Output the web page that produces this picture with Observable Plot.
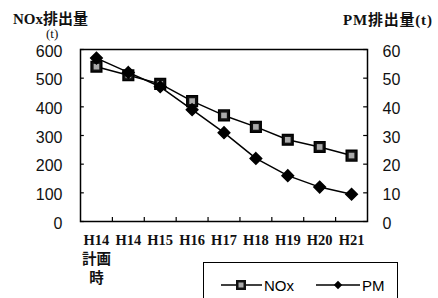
<!DOCTYPE html>
<html><head><meta charset="utf-8">
<script src="https://cdn.jsdelivr.net/npm/d3@7"></script>
<script src="https://cdn.jsdelivr.net/npm/@observablehq/plot@0.6"></script>
<style>
body{margin:0;background:#fff;}
#wrap{position:relative;width:438px;height:298px;overflow:hidden;background:#fff;}
.t{position:absolute;font-family:"Liberation Serif","Noto Sans CJK JP",serif;font-weight:bold;font-size:15px;color:#111;white-space:nowrap;}
#legend{position:absolute;left:203px;top:262px;width:195px;height:44px;border:1px solid #000;box-sizing:border-box;font-family:"Liberation Sans",Arial,sans-serif;font-size:15px;}
</style></head>
<body><div id="wrap">
<div class="t" style="left:13px;top:7px;">NOx排出量</div>
<div class="t" style="left:46px;top:26px;font-weight:normal;font-size:13px;line-height:15px;">(t)</div>
<div class="t" style="left:343px;top:8px;letter-spacing:0.8px;">PM排出量(t)</div>
<div id="legend"></div>
</div>
<script>
const categories = ["H14\n計画\n時","H14","H15","H16","H17","H18","H19","H20","H21"];
const noxValues = [540,510,480,420,370,330,285,260,230];
const pmValues = [57,52,47,39,31,22,16,12,9.5];
const noxTicks = [0,100,200,300,400,500,600];
const pmScale = 10;

const rows = categories.map((c,i)=>({label:c, x:i+0.5, nox:noxValues[i], pm:pmValues[i]*pmScale}));

const chart = Plot.plot({
  width:438, height:298,
  marginLeft:80, marginRight:71, marginTop:49, marginBottom:77,
  x:{domain:[0,categories.length], axis:null},
  y:{domain:[0,600], axis:null},
  style:{background:"transparent", fontFamily:"Liberation Sans, Arial, sans-serif", color:"#111"},
  marks:[
    Plot.frame({stroke:"#000", strokeWidth:1.5}),
    Plot.axisY(noxTicks,{anchor:"left", tickSize:0, tickPadding:18, fontSize:16, dy:2}),
    Plot.axisY(noxTicks,{anchor:"right", tickSize:0, tickPadding:15, fontSize:16, dy:2, tickFormat:d=>d/pmScale}),
    Plot.ruleY(noxTicks,{x1:0, x2:0.12, stroke:"#000", strokeWidth:1.2}),
    Plot.ruleY(noxTicks,{x1:categories.length-0.12, x2:categories.length, stroke:"#000", strokeWidth:1.2}),
    Plot.ruleX(d3.range(1,categories.length),{y1:0, y2:14, stroke:"#000", strokeWidth:1.2}),
    Plot.line(rows,{x:"x", y:"nox", stroke:"#000", strokeWidth:1.5}),
    Plot.line(rows,{x:"x", y:"pm", stroke:"#000", strokeWidth:1.5}),
    Plot.dot(rows,{x:"x", y:"nox", symbol:"square", r:6, fill:"#111", stroke:"#000"}),
    Plot.dot(rows,{x:"x", y:"nox", symbol:"square", r:3.2, fill:"#aaa", stroke:"none"}),
    Plot.dot(rows,{x:"x", y:"pm", symbol:d3.symbolDiamond2, r:5.2, fill:"#000", stroke:"#000"}),
    Plot.text(rows,{x:"x", frameAnchor:"bottom", dy:10, text:"label", lineAnchor:"top", lineHeight:1.32,
      fontSize:14.5, fontWeight:"bold", fontFamily:"Liberation Serif, Noto Sans CJK JP, serif"})
  ]
});
chart.style.position="absolute"; chart.style.left="0"; chart.style.top="0";
document.getElementById("wrap").prepend(chart);

// legend
const leg = d3.select("#legend").append("svg").attr("width",195).attr("height",44);
const items=[{name:"NOx", sym:"square", x0:17, mark:37, x1:58, tx:60},{name:"PM", sym:"diamond", x0:112, mark:134, x1:156, tx:158}];
items.forEach(it=>{
  leg.append("line").attr("x1",it.x0).attr("x2",it.x1).attr("y1",22).attr("y2",22).attr("stroke","#000").attr("stroke-width",1.5);
  if(it.sym==="square"){
    leg.append("rect").attr("x",it.mark-5).attr("y",17).attr("width",10).attr("height",10).attr("fill","#111");
    leg.append("rect").attr("x",it.mark-2.5).attr("y",19.5).attr("width",5).attr("height",5).attr("fill","#aaa");
  } else {
    leg.append("path").attr("d",d3.symbol(d3.symbolDiamond2,45)()).attr("transform",`translate(${it.mark},22)`).attr("fill","#000");
  }
  leg.append("text").attr("x",it.tx).attr("y",27.5).text(it.name).attr("font-size",15).attr("font-family","Liberation Sans, Arial, sans-serif");
});
</script>
</body></html>
